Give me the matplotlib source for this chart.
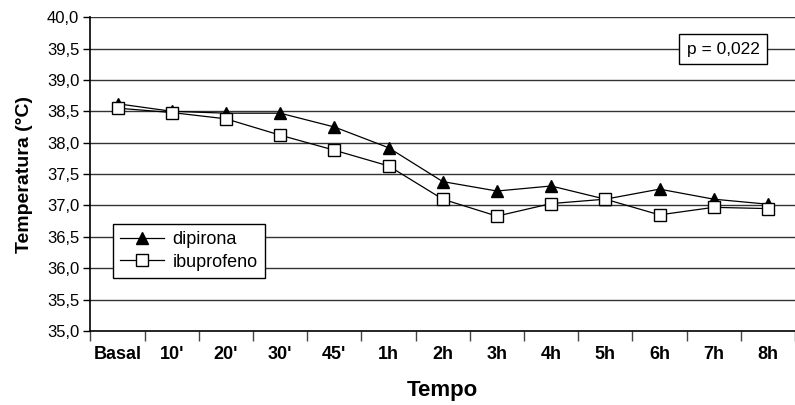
import matplotlib.pyplot as plt
import numpy as np

plt.rcParams['font.family'] = ['Liberation Sans', 'DejaVu Sans']

tempos = ['Basal', "10'", "20'", "30'", "45'", '1h', '2h', '3h', '4h', '5h', '6h', '7h', '8h']
dipirona = [38.62, 38.50, 38.47, 38.47, 38.25, 37.92, 37.38, 37.23, 37.31, 37.10, 37.26, 37.10, 37.02]
ibuprofeno = [38.55, 38.48, 38.38, 38.12, 37.88, 37.63, 37.10, 36.83, 37.03, 37.10, 36.85, 36.97, 36.95]

fig = plt.figure(figsize=(7.95, 4.05), dpi=100)
ax = fig.add_axes([0.1138, 0.1827, 0.8862, 0.775])

x = np.arange(len(tempos))

# grade horizontal
for v in np.arange(35.5, 40.01, 0.5):
    ax.axhline(v, color='#333333', linewidth=1.0, zorder=1)

ax.plot(x, dipirona, color='black', linewidth=0.9, marker='^', markersize=8,
        markerfacecolor='black', markeredgecolor='black', label='dipirona', zorder=3)
ax.plot(x, ibuprofeno, color='black', linewidth=0.9, marker='s', markersize=9,
        markerfacecolor='white', markeredgecolor='black', markeredgewidth=1.0,
        label='ibuprofeno', zorder=4)

ax.set_xlim(-0.5, len(tempos) - 0.5)
ax.set_ylim(35.0, 40.0)

ax.set_yticks(np.arange(35.0, 40.01, 0.5))
ax.set_yticklabels([('%.1f' % v).replace('.', ',') for v in np.arange(35.0, 40.01, 0.5)],
                   fontsize=12)

ax.set_xticks(np.arange(-0.5, len(tempos), 1.0))
ax.set_xticklabels([])
ax.set_xticks(x, minor=True)
ax.set_xticklabels(tempos, minor=True, fontsize=13, fontweight='bold')
ax.tick_params(axis='x', which='major', direction='out', length=7, width=1, color='#444444')
ax.tick_params(axis='x', which='minor', length=0, pad=11)
ax.tick_params(axis='y', direction='out', length=5, width=1, pad=3)

for s in ['top', 'right']:
    ax.spines[s].set_visible(False)
ax.spines['left'].set_linewidth(1.2)
ax.spines['bottom'].set_linewidth(1.2)

ax.set_xlabel('Tempo', fontsize=16, fontweight='bold', labelpad=12)
ax.set_ylabel('Temperatura (°C)', fontsize=14, fontweight='bold', labelpad=10)

leg = ax.legend(loc='lower left', bbox_to_anchor=(0.032, 0.169), fontsize=13,
                frameon=True, fancybox=False, edgecolor='black', framealpha=1,
                handlelength=2.4, borderpad=0.4, labelspacing=0.3, handletextpad=0.5,
                borderaxespad=0)
leg.get_frame().set_linewidth(1.0)

ax.text(0.898, 0.898, 'p = 0,022', transform=ax.transAxes, fontsize=12.5,
        ha='center', va='center', zorder=5,
        bbox=dict(boxstyle='square,pad=0.45', facecolor='white', edgecolor='black', linewidth=1.0))

plt.savefig('out.png', dpi=100)
